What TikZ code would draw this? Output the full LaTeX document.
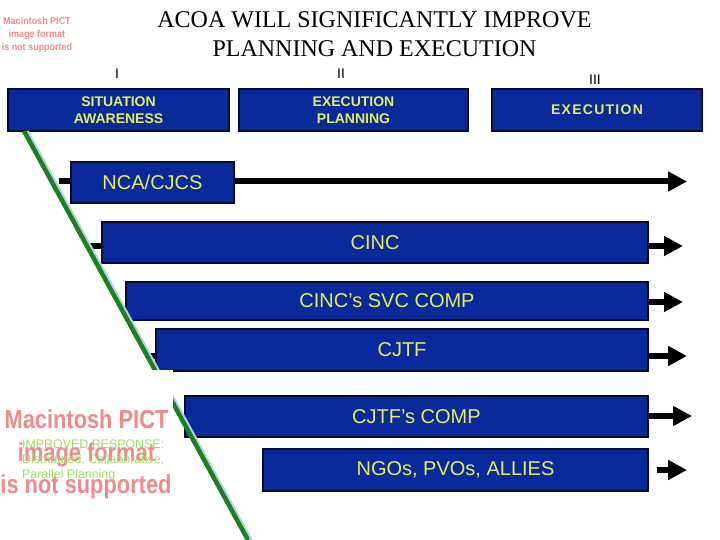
\documentclass[tikz,border=0pt]{standalone}
\usepackage{fontspec}
\setmainfont{Liberation Serif}
\newfontfamily\arialf{Liberation Sans}
\usetikzlibrary{arrows.meta}
\definecolor{boxblue}{HTML}{0A2A9C}
\definecolor{boxtext}{HTML}{E4EE5C}
\definecolor{pictred}{HTML}{F08A8A}
\definecolor{lgreen}{HTML}{98E060}
\definecolor{dgreen}{HTML}{1A8020}
\definecolor{shadowblue}{HTML}{B4D2E6}
\definecolor{boxedge}{HTML}{050A30}
\tikzset{
  bluebox/.style={draw=boxedge, line width=2.5pt, fill=boxblue, text=boxtext, inner sep=0pt, align=center},
  topbox/.style={bluebox, minimum height=42pt, font=\arialf\bfseries\fontsize{14}{17}\selectfont},
  rowbox/.style={bluebox, font=\arialf\fontsize{20}{24}\selectfont},
  flow/.style={line width=6pt, -{Triangle[length=19pt,width=19pt]}},
  stubline/.style={line width=6pt},
  numeral/.style={font=\arialf\fontsize{14}{16}\selectfont, anchor=base, inner sep=0pt},
  titletext/.style={font=\fontsize{24}{29}\selectfont, anchor=base, inner sep=0pt},
  bigpict/.style={text=pictred, font=\arialf\bfseries\fontsize{26}{30}\selectfont, anchor=base, inner sep=0pt},
}
\begin{document}
\begin{tikzpicture}[x=1pt,y=-1pt]
\useasboundingbox (0,0) rectangle (720,540);

% title
\node[titletext] (title1) at (374.5,27.5) {ACOA WILL SIGNIFICANTLY IMPROVE};
\node[titletext] (title2) at (374.5,56.5) {PLANNING AND EXECUTION};

% small placeholder text top left
\node[text=pictred, font=\arialf\bfseries\fontsize{10}{13}\selectfont, align=center, inner sep=0pt] (pictsmall) at (37,35)
  {\scalebox{0.9}[1]{Macintosh PICT}\\\scalebox{0.9}[1]{image format}\\\scalebox{0.9}[1]{is not supported}};

% numerals
\node[numeral] (n1) at (117,79) {I};
\node[numeral] (n2) at (341,79) {II};
\node[numeral] (n3) at (595,85) {III};

% top boxes
\node[topbox, minimum width=221pt] (sa) at (118.5,110) {SITUATION\\AWARENESS};
\node[topbox, minimum width=229pt] (ep) at (353.5,110) {EXECUTION\\PLANNING};
\node[topbox, minimum width=210pt] (ex) at (597,110) {\addfontfeature{LetterSpace=9}EXECUTION};

% row boxes
\node[rowbox, minimum width=163pt, minimum height=41pt] (nca) at (152.5,182.5) {NCA/CJCS};
\node[rowbox, minimum width=546pt, minimum height=41pt] (cinc) at (375,242.5) {CINC};
\node[rowbox, minimum width=522pt, minimum height=38pt] (svc) at (387,301) {CINC’s SVC COMP};
\node[rowbox, minimum width=492pt, minimum height=42pt] (cjtf) at (402,350) {CJTF};
\node[rowbox, minimum width=463pt, minimum height=41pt] (cjtfc) at (416.5,416.5) {CJTF’s COMP};
\node[rowbox, minimum width=385pt, minimum height=42pt] (ngo) at (455.5,470) {NGOs, PVOs, ALLIES};

% connector ends
\coordinate (ncaL) at (59,181.5);
\coordinate (ncaT) at (687,181.5);
\coordinate (cincL) at (90,246);
\coordinate (cincT) at (683,246);
\coordinate (svcT) at (683,302);
\coordinate (cjtfL) at (150,356);
\coordinate (cjtfT) at (687,356);
\coordinate (cjtfcT) at (692,416);
\coordinate (ngoT) at (687,470);

\draw[stubline] (ncaL) -- (ncaL -| nca.west);
\draw[flow] (ncaT -| nca.east) -- (ncaT);
\draw[stubline] (cincL) -- (cincL -| cinc.west);
\draw[flow] (cincT -| cinc.east) -- (cincT);
\draw[flow] (svcT -| svc.east) -- (svcT);
\draw[stubline] (cjtfL) -- (cjtfL -| cjtf.west);
\draw[flow] (cjtfT -| cjtf.east) -- (cjtfT);
\draw[flow] (cjtfcT -| cjtfc.east) -- (cjtfcT);
\draw[flow, shorten <=8pt] (ngoT -| ngo.east) -- (ngoT);

% green diagonal line with light blue shadow
\coordinate (gtop) at (24,131);
\coordinate (gbot) at (248,540);
\draw[shadowblue, line width=2.5pt] ([xshift=3.5pt]gtop) -- ([xshift=3.5pt]gbot);
\draw[dgreen, line width=4.5pt] (gtop) -- (gbot);

% white placeholder area
\fill[white] (0,370) rectangle (173,540);
\node[bigpict] (pict1) at (86.5,428) {\scalebox{0.84}[1]{Macintosh PICT}};
\node[bigpict] (pict2) at (86.5,461) {\scalebox{0.84}[1]{image format}};
\node[bigpict] (pict3) at (86,493) {\scalebox{0.84}[1]{is not supported}};
\node[text=lgreen, font=\arialf\fontsize{12.4}{14.8}\selectfont, align=left, anchor=north west, inner sep=0pt] (resp) at (22,440)
  {IMPROVED RESPONSE:\\Distributed, Collaborative,\\Parallel Planning};
\end{tikzpicture}
\end{document}
